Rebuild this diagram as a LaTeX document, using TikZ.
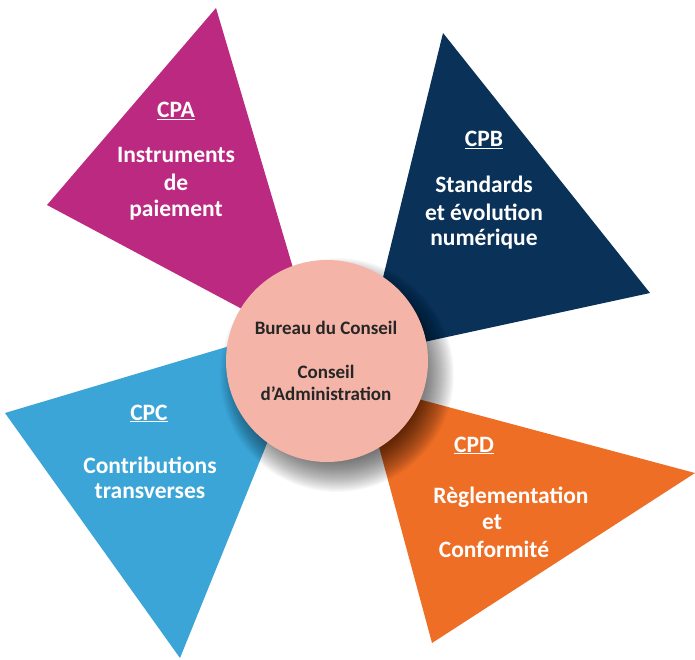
\documentclass[tikz,border=0pt]{standalone}
\usepackage{fontspec}
\setmainfont{Carlito}
\definecolor{cpa}{RGB}{188,41,128}
\definecolor{cpb}{RGB}{10,49,88}
\definecolor{cpc}{RGB}{59,165,216}
\definecolor{cpd}{RGB}{238,110,37}
\definecolor{hub}{RGB}{244,180,168}
\definecolor{hubtext}{RGB}{38,38,38}
\begin{document}
\begin{tikzpicture}[x=1pt,y=-1pt,
  wtext/.style={text=white,font=\bfseries\fontsize{23.5}{27}\selectfont,anchor=base,inner sep=0pt},
  ctext/.style={text=hubtext,font=\bfseries\fontsize{19}{22}\selectfont,anchor=base,inner sep=0pt},
  shadowring/.style={fill=black, opacity=0.022}]
\useasboundingbox (0,0) rectangle (695,660);
% petals
\fill[cpa] (216,8) -- (47,205) -- (317,349) -- cycle;
\fill[cpb] (443,33) -- (650,293) -- (364,355) -- cycle;
\fill[cpc] (5,413) -- (180,658) -- (317,320) -- cycle;
\fill[cpd] (695,473) -- (432,643) -- (362,384) -- cycle;
% soft shadow of the hub
\foreach \r in {80,...,117} \fill[shadowring] (337,375) circle (\r pt);
% hub
\node[circle, fill=hub, minimum size=202pt, inner sep=0pt] (hub) at (327,361) {};
\node[ctext] (hub1) at (326,334) {Bureau du Conseil};
\node[ctext] (hub2) at (326,378) {Conseil};
\node[ctext] (hub3) at (326,400) {d’Administration};
% CPA
\node[wtext] (a0) at (176,118) {\underline{CPA}};
\node[wtext] (a1) at (176,163) {Instruments};
\node[wtext] (a2) at (176,191) {de};
\node[wtext] (a3) at (176,217) {paiement};
% CPB
\node[wtext] (b0) at (484,147) {\underline{CPB}};
\node[wtext] (b1) at (484,193) {Standards};
\node[wtext] (b2) at (484,220) {et évolution};
\node[wtext] (b3) at (484,245) {numérique};
% CPC
\node[wtext] (c0) at (149,420) {\underline{CPC}};
\node[wtext] (c1) at (150,473) {Contributions};
\node[wtext] (c2) at (150,498) {transverses};
% CPD
\node[wtext] (d0) at (474,452) {\underline{CPD}};
\node[wtext] (d1) at (511,503) {Règlementation};
\node[wtext] (d2) at (492,529) {et};
\node[wtext] (d3) at (494,557) {Conformité};
\end{tikzpicture}
\end{document}
